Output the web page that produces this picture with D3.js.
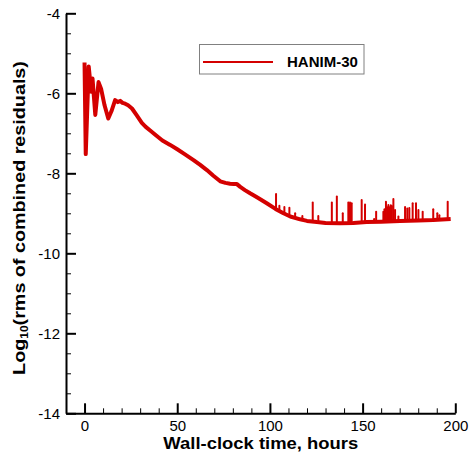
<!DOCTYPE html>
<html>
<head>
<meta charset="utf-8">
<script src="https://cdn.jsdelivr.net/npm/d3@7"></script>
<style>
  html, body { margin: 0; padding: 0; background: #fff; }
  svg { display: block; font-family: "Liberation Sans", Arial, Helvetica, sans-serif; }
</style>
</head>
<body>
<svg id="chart" width="469" height="457"></svg>
<script>
// Convergence history: log10 of combined residual RMS vs wall-clock hours
const seriesName = "HANIM-30";
const hours = [0.0, 0.65, 2.25, 3.6, 4.3, 5.8, 7.55, 9.0, 10.8, 12.8, 14.5, 16.5, 18.0, 19.2, 20.5,
  21.9, 23.5, 25.6, 28.0, 30.9, 33.0, 35.4, 38.0, 42.0, 46.2, 50.0, 54.0, 58.8, 62.4, 66.0,
  69.5, 73.2, 76.0, 78.5, 80.5, 82.2, 84.0, 86.5, 89.3, 93.0, 98.3, 103.0, 107.3, 111.0,
  116.3, 120.0, 125.3, 130.0, 137.8, 145.0, 152.2, 160.0, 170.2, 180.0, 188.1, 197.5];
const logResidual = [-5.23, -7.52, -5.33, -5.96, -5.63, -6.54, -5.72, -5.9, -6.3, -6.63, -6.45, -6.17, -6.22, -6.19, -6.24,
  -6.26, -6.3, -6.38, -6.54, -6.74, -6.84, -6.93, -7.03, -7.18, -7.29, -7.4, -7.52, -7.67, -7.79, -7.92,
  -8.06, -8.2, -8.24, -8.26, -8.27, -8.27, -8.34, -8.42, -8.5, -8.6, -8.75, -8.89, -9.0, -9.08,
  -9.15, -9.19, -9.22, -9.24, -9.25, -9.24, -9.22, -9.21, -9.19, -9.18, -9.17, -9.14];

// Residual spikes: hour and peak log value
const spikeHours = [103.3, 105.1, 107.8, 110.5, 113.6, 117.5, 123.1, 126.1, 133.4, 136.1, 139.3, 142.3,
  143.2, 144.1, 149.5, 151.3, 156.2, 157.3, 161.2, 161.8, 162.6, 163.3, 163.9, 164.5, 165.2, 165.8,
  166.6, 167.5, 169.3, 172.9, 174.1, 175.2, 177.0, 178.8, 180.1, 182.4, 188.1, 190.3, 191.4, 195.9];
const spikeTops = [-8.52, -8.81, -8.84, -8.86, -9.0, -9.07, -8.73, -9.07, -8.73, -8.58, -9.0, -8.73,
  -8.73, -8.75, -8.67, -8.78, -9.14, -8.96, -8.96, -8.9, -8.71, -8.85, -8.79, -8.85, -8.8, -8.82,
  -8.64, -8.92, -9.08, -8.84, -8.88, -8.87, -8.75, -8.75, -8.92, -8.96, -8.9, -9.0, -9.05, -8.71];

const xMajor = [0, 50, 100, 150, 200];
const xMinor = [10, 20, 30, 40, 60, 70, 80, 90, 110, 120, 130, 140, 160, 170, 180, 190];
const yMajor = [-4, -6, -8, -10, -12, -14];
const yMinor = [-4.5, -5, -5.5, -6.5, -7, -7.5, -8.5, -9, -9.5, -10.5, -11, -11.5, -12.5, -13, -13.5];

const lineColor = "#d40000";
const svg = d3.select("#chart");

const x = d3.scaleLinear().domain([-10, 200]).range([66, 455.3]);
const y = d3.scaleLinear().domain([-14, -4]).range([413.3, 13.3]);

// Main convergence curve
const points = hours.map((h, i) => [h, logResidual[i]]);
const line = d3.line().x(d => x(d[0])).y(d => y(d[1]));
svg.append("path")
  .datum(points)
  .attr("fill", "none")
  .attr("stroke", lineColor)
  .attr("stroke-width", 4)
  .attr("stroke-linejoin", "round")
  .attr("d", line);

// Spikes rise from the curve to their peak value
const baseAt = h => {
  const i = d3.bisectRight(hours, h);
  const h0 = hours[i - 1], h1 = hours[i];
  const t = (h - h0) / (h1 - h0);
  return logResidual[i - 1] + t * (logResidual[i] - logResidual[i - 1]);
};
svg.append("g").selectAll("line")
  .data(spikeHours.map((h, i) => [h, spikeTops[i]]))
  .join("line")
  .attr("x1", d => x(d[0])).attr("x2", d => x(d[0]))
  .attr("y1", d => y(baseAt(d[0]))).attr("y2", d => y(d[1]))
  .attr("stroke", lineColor)
  .attr("stroke-width", 2)
  .attr("stroke-linecap", "round");

// Axes with inward ticks
const fmt = d3.format("d");
const minus = v => fmt(v).replace("\u2212", "-");

const yAxis = svg.append("g").attr("transform", `translate(${x(-10)},0)`)
  .call(d3.axisLeft(y).tickValues(yMajor).tickSizeInner(-10).tickSizeOuter(0).tickPadding(6).tickFormat(minus));
yAxis.select(".domain").attr("stroke-width", 2);
yAxis.selectAll(".tick line").attr("stroke-width", 2);
yAxis.selectAll("text").attr("font-size", 15).attr("fill", "#000")
  .attr("font-family", "Liberation Sans, Arial, sans-serif");

const yMinorAxis = svg.append("g").attr("transform", `translate(${x(-10)},0)`)
  .call(d3.axisLeft(y).tickValues(yMinor).tickSizeInner(-5).tickSizeOuter(0).tickFormat(""));
yMinorAxis.select(".domain").remove();
yMinorAxis.selectAll(".tick line").attr("stroke-width", 1);

const xAxis = svg.append("g").attr("transform", `translate(0,${y(-14)})`)
  .call(d3.axisBottom(x).tickValues(xMajor).tickSizeInner(-10).tickSizeOuter(0).tickPadding(7).tickFormat(fmt));
xAxis.select(".domain").attr("stroke-width", 2);
xAxis.selectAll(".tick line").attr("stroke-width", 2);
xAxis.selectAll("text").attr("font-size", 15).attr("fill", "#000")
  .attr("font-family", "Liberation Sans, Arial, sans-serif");

const xMinorAxis = svg.append("g").attr("transform", `translate(0,${y(-14)})`)
  .call(d3.axisBottom(x).tickValues(xMinor).tickSizeInner(-5).tickSizeOuter(0).tickFormat(""));
xMinorAxis.select(".domain").remove();
xMinorAxis.selectAll(".tick line").attr("stroke-width", 1);

// Axis titles, stretched along their reading direction to the wider title face
const stretch = (sel, cx, cy, angle, width) => {
  const w = sel.node().getComputedTextLength();
  sel.attr("transform", `translate(${cx},${cy}) rotate(${angle}) scale(${width / w},1)`);
};

const xTitle = svg.append("text")
  .attr("text-anchor", "middle")
  .attr("font-size", 16.5).attr("font-weight", "bold")
  .text("Wall-clock time, hours");
stretch(xTitle, 260.8, 449.3, 0, 195);

const yTitle = svg.append("text")
  .attr("text-anchor", "middle")
  .attr("font-size", 16.5).attr("font-weight", "bold");
yTitle.append("tspan").text("Log");
yTitle.append("tspan").attr("font-size", 10).attr("dy", 3).text("10");
yTitle.append("tspan").attr("dy", -3).text("(rms of combined residuals)");
stretch(yTitle, 25, 218, -90, 314);

// Legend
const legend = svg.append("g");
legend.append("rect")
  .attr("x", 199.5).attr("y", 44.5).attr("width", 164.5).attr("height", 29.5)
  .attr("fill", "#fff").attr("stroke", "#808080").attr("stroke-width", 1);
legend.append("line")
  .attr("x1", 203).attr("x2", 273).attr("y1", 62).attr("y2", 62)
  .attr("stroke", lineColor).attr("stroke-width", 2);
legend.append("text")
  .attr("x", 287).attr("y", 67)
  .attr("font-size", 15).attr("font-weight", "bold")
  .text(seriesName);
</script>
</body>
</html>
